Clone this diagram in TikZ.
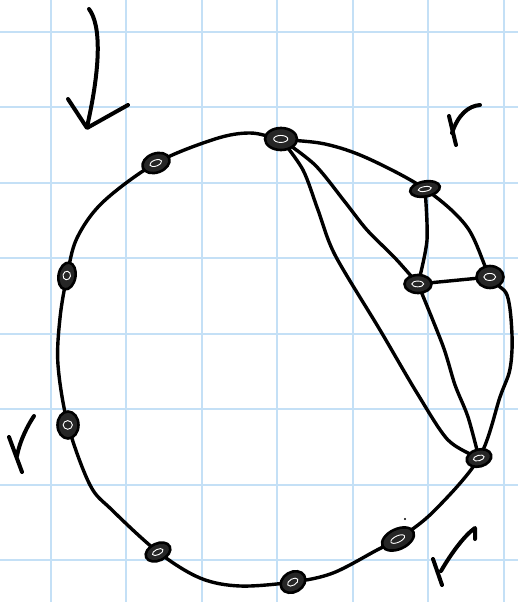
\documentclass[tikz,border=0pt]{standalone}
\usetikzlibrary{shapes.geometric}
\definecolor{gridblue}{RGB}{196,224,246}
\pgfdeclarelayer{gridlayer}
\pgfdeclarelayer{edgelayer}
\pgfsetlayers{gridlayer,edgelayer,main}
\begin{document}
\begin{tikzpicture}[x=1bp,y=-1bp,
  pen/.style={line width=3.4bp, line cap=round, line join=round},
  tick/.style={line width=4bp, line cap=round, line join=round},
  blob/.style={ellipse, draw, line width=2.6bp, fill=black!85, inner sep=0pt,
    path picture={\draw[white, line width=0.9bp]
      ([shift={(-0.25,-0.05)}]path picture bounding box.center) ellipse [x radius=0.22*\pgfkeysvalueof{/pgf/minimum width}, y radius=0.16*\pgfkeysvalueof{/pgf/minimum height}];}}]
\useasboundingbox (0,0) rectangle (518,602);
\begin{pgfonlayer}{gridlayer}
  \fill[white] (0,0) rectangle (518,602);
  \foreach \gx in {50.7,126.2,201.7,277.2,352.7,428.2,503.7}
    \draw[gridblue, line width=2bp] (\gx,0) -- (\gx,602);
  \foreach \gy in {31.7,107.2,182.7,258.2,333.7,409.2,484.7,560.2}
    \draw[gridblue, line width=2bp] (0,\gy) -- (518,\gy);
\end{pgfonlayer}
% vertices
\node[blob, minimum width=32bp, minimum height=22bp] (t) at (281,139) {};
\node[blob, minimum width=28bp, minimum height=19bp, rotate=20] (ul) at (156,163) {};
\node[blob, minimum width=17bp, minimum height=27bp, rotate=-10] (l) at (67,276) {};
\node[blob, minimum width=21bp, minimum height=27bp] (ll) at (68,425) {};
\node[blob, minimum width=26bp, minimum height=17bp, rotate=25] (bl) at (158,552) {};
\node[blob, minimum width=26bp, minimum height=20bp, rotate=30] (b) at (293,582) {};
\node[blob, minimum width=34bp, minimum height=20bp, rotate=25] (br) at (398,539) {};
\node[blob, minimum width=25bp, minimum height=17bp, rotate=15] (rl) at (479,458) {};
\node[blob, minimum width=27bp, minimum height=22bp] (r) at (490,277) {};
\node[blob, minimum width=30bp, minimum height=15bp, rotate=10] (ur) at (425,189) {};
\node[blob, minimum width=27bp, minimum height=18bp] (c) at (418,284) {};
\begin{pgfonlayer}{edgelayer}
  % outer closed curve
  \draw[pen] plot[smooth cycle, tension=0.55] coordinates {(t) (325,144) (367,158) (ur) (467,227) (r) (507,295) (512,335) (510,369) (500,397) (rl) (433,512) (br) (377,550) (333,573) (b) (240,586) (200,578) (bl) (112,510) (90,485) (ll) (58,365) (60,318) (l) (77,238) (103,202) (ul) (215,139) (250,133)};
  % chords
  \draw[pen] plot[smooth, tension=0.5] coordinates {(t) (303,170) (318,210) (335,255) (380,330) (417,393) (448,440) (rl)};
  \draw[pen] plot[smooth, tension=0.5] coordinates {(t) (315,165) (345,202) (367,230) (395,258) (c)};
  \draw[pen] plot[smooth, tension=0.5] coordinates {(ur) (427,240) (c)};
  \draw[pen] (c) -- (r);
  \draw[pen] plot[smooth, tension=0.5] coordinates {(c) (443,346) (455,385) (468,417) (rl)};
\end{pgfonlayer}
% check marks
\draw[tick] (89,9) .. controls (101,25) and (101,65) .. (87,127);
\draw[tick] (68,99) -- (87,128) -- (128,105);
\draw[tick] (449,116) -- (456,145);
\draw[tick] (452,133) .. controls (458,115) and (468,106) .. (480,105);
\draw[tick] (9,437) -- (22,472);
\draw[tick] (17,456) .. controls (20,440) and (28,425) .. (34,416);
\draw[tick] (433,559) -- (442,585);
\draw[tick] (441,571) .. controls (452,552) and (465,535) .. (475,528) -- (475,539);
\fill (405,519) circle (1.2bp);
\end{tikzpicture}
\end{document}
